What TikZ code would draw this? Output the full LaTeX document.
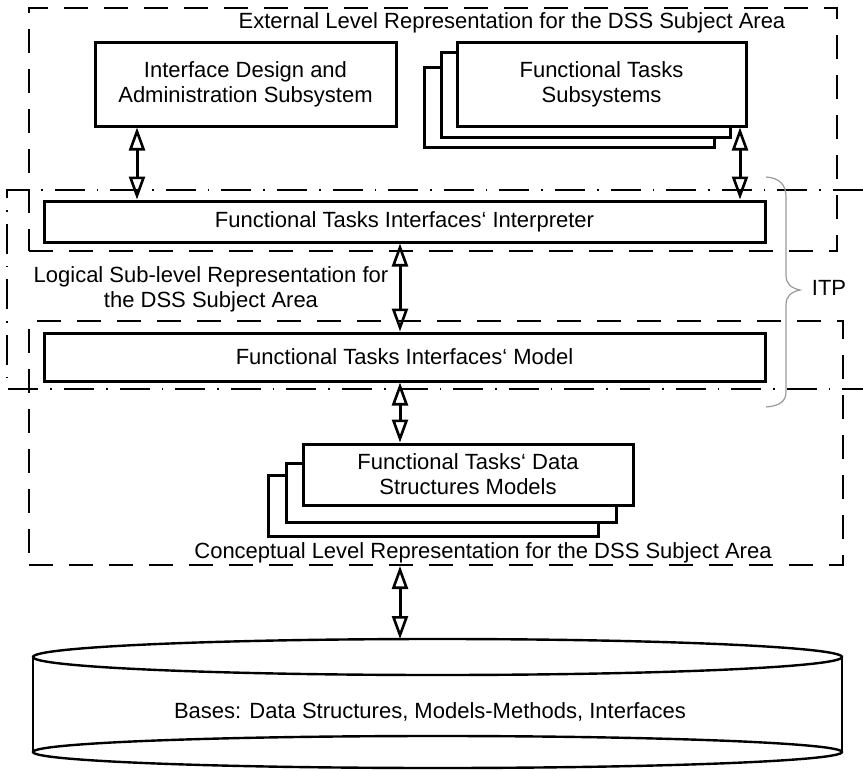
\documentclass[tikz,border=0pt]{standalone}
\usepackage{fontspec}
% plain grave accents in the labels, so no TeX quote mapping
\setmainfont{Liberation Sans}[Ligatures=ResetAll]
\usetikzlibrary{arrows.meta}
\tikzset{
  txt/.style={font=\fontsize{11}{12.5}\selectfont, align=center, inner sep=0pt},
  block/.style={draw, line width=1.5pt, fill=white, rectangle, inner sep=0pt,
    font=\fontsize{11}{12.5}\selectfont, align=center},
  levelframe/.style={draw, line width=1pt, rectangle, inner sep=0pt,
    dash pattern=on 12pt off 8pt},
  dashdotline/.style={line width=0.9pt, dash pattern=on 15pt off 6pt on 0.8pt off 6pt},
  biarrow/.style={line width=1.5pt,
    {Triangle[open,length=11.5pt,width=8pt,line width=1.3pt]}-{Triangle[open,length=11.5pt,width=8pt,line width=1.3pt]}},
  bracestyle/.style={draw=black!40, line width=0.6pt},
}
\begin{document}
\begin{tikzpicture}[x=0.5pt,y=-0.5pt]
\useasboundingbox (0,0) rectangle (863,771);

% level frames
\node[levelframe, minimum width=404pt, minimum height=121.5pt] (ext) at (433,129.5) {};
\node[levelframe, minimum width=407pt, minimum height=122pt] (concept) at (436,443) {};
% ITP band (open to the right)
\draw[dashdotline] (863,190) -- (7,190) -- (7,389) -- (863,389);

% level captions
\node[txt] (exttitle) at (512,23) {External Level Representation for the DSS Subject Area};
\node[txt] (logtitle) at (211,289.5) {Logical Sub-level Representation for\\the DSS Subject Area};
\node[txt] (contitle) at (483,553) {Conceptual Level Representation for the DSS Subject Area};

% external level blocks
\node[block, minimum width=150.5pt, minimum height=42pt] (iface) at (245.5,84)
  {Interface Design and\\Administration Subsystem};
\node[block, minimum width=145pt, minimum height=40pt] (fts3) at (569,107) {};
\node[block, minimum width=144.5pt, minimum height=42.5pt] (fts2) at (585.5,94.5) {};
\node[block, minimum width=144.5pt, minimum height=42pt] (fts) at (601.5,84)
  {Functional Tasks\\Subsystems};

% logical sub-level blocks
\node[block, minimum width=360.5pt, minimum height=20.5pt] (interp) at (404.5,221.5)
  {Functional Tasks Interfaces` Interpreter};
\node[block, minimum width=360.5pt, minimum height=24pt] (model) at (404.5,357)
  {Functional Tasks Interfaces` Model};

% conceptual level blocks
\node[block, minimum width=165pt, minimum height=30.5pt] (dsm3) at (433,505.5) {};
\node[block, minimum width=165pt, minimum height=29.5pt] (dsm2) at (451,492.5) {};
\node[block, minimum width=165pt, minimum height=30.5pt] (dsm) at (468,474.5)
  {Functional Tasks` Data\\Structures Models};

% bases cylinder
\begin{scope}[line width=1.2pt]
  \draw (33,657) -- (33,752);
  \draw (842,657) -- (842,752);
  \draw (437.5,657) ellipse [x radius=404.5, y radius=18];
  \draw (437.5,752) ellipse [x radius=404.5, y radius=16];
\end{scope}
\coordinate (basestop) at (400,639);
\node[txt] (bases) at (430,712) {Bases: Data Structures, Models-Methods, Interfaces};

% ITP brace
\draw[bracestyle] (766,177) .. controls (780,178) and (786,185) .. (786,197)
  -- (786,275) .. controls (786,284) and (791,288) .. (800,290)
  .. controls (791,292) and (786,296) .. (786,305)
  -- (786,392) .. controls (786,401) and (780,406) .. (766,407);
\node[txt] (itp) at (829,288) {ITP};

% connectors
\draw[biarrow] (iface.south -| 137,0) -- (interp.north -| 137,0);
\draw[biarrow] (fts.south -| 740,0) -- (interp.north -| 740,0);
\draw[biarrow] (interp.south -| 400,0) -- (model.north -| 400,0);
\draw[biarrow] (model.south -| 400,0) -- (dsm.north -| 400,0);
\draw[biarrow] (concept.south -| 400,0) -- (basestop);
\end{tikzpicture}
\end{document}
